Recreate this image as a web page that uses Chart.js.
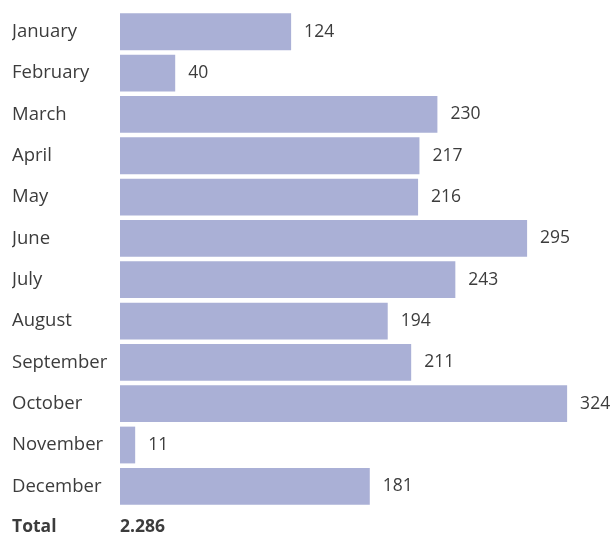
<!DOCTYPE html>
<html>
<head>
<meta charset="utf-8">
<script src="https://cdn.jsdelivr.net/npm/chart.js@4"></script>
<style>
  html, body { margin: 0; padding: 0; background: #fff; }
  #wrap { width: 613px; height: 534px; position: relative; }
</style>
</head>
<body>
<div id="wrap"><canvas id="c"></canvas></div>
<script>
const months = ['January', 'February', 'March', 'April', 'May', 'June', 'July',
  'August', 'September', 'October', 'November', 'December'];
const counts = [124, 40, 230, 217, 216, 295, 243, 194, 211, 324, 11, 181];
const totalLabel = 'Total';

const FONT = '"Open Sans", "Noto Sans", sans-serif';
const TEXT = '#3c3c3c';
const BAR = '#aab0d6';

// value at the end of each bar, plus the bold total row underneath
const labelsPlugin = {
  id: 'barLabels',
  afterDatasetsDraw(chart) {
    const ctx = chart.ctx;
    const meta = chart.getDatasetMeta(0);
    ctx.save();
    ctx.fillStyle = TEXT;
    ctx.font = '17.5px ' + FONT;
    ctx.textAlign = 'left';
    ctx.textBaseline = 'middle';
    meta.data.forEach((bar, i) => {
      ctx.fillText(String(counts[i]), bar.x + 13, bar.y);
    });
    const total = counts.reduce((a, b) => a + b, 0);
    const y = chart.chartArea.bottom + 20;
    ctx.font = 'bold 17.5px ' + FONT;
    ctx.fillText(totalLabel, 12, y);
    ctx.fillText(total.toLocaleString('de-DE'), chart.chartArea.left, y);
    ctx.restore();
  }
};

new Chart(document.getElementById('c'), {
  type: 'bar',
  data: {
    labels: months,
    datasets: [{
      data: counts,
      backgroundColor: BAR,
      borderWidth: 0,
      categoryPercentage: 1,
      barPercentage: 0.89
    }]
  },
  options: {
    indexAxis: 'y',
    responsive: true,
    maintainAspectRatio: false,
    animation: false,
    layout: { padding: { left: 12, top: 9, right: 10, bottom: 27 } },
    plugins: { legend: { display: false }, tooltip: { enabled: false } },
    scales: {
      x: { display: false, min: 0, max: 350 },
      y: {
        grid: { display: false },
        border: { display: false },
        ticks: {
          crossAlign: 'far',
          color: TEXT,
          font: { family: FONT, size: 18.5 },
          padding: 0
        },
        afterFit(scale) { scale.width = 108; }
      }
    }
  },
  plugins: [labelsPlugin]
});
</script>
</body>
</html>
